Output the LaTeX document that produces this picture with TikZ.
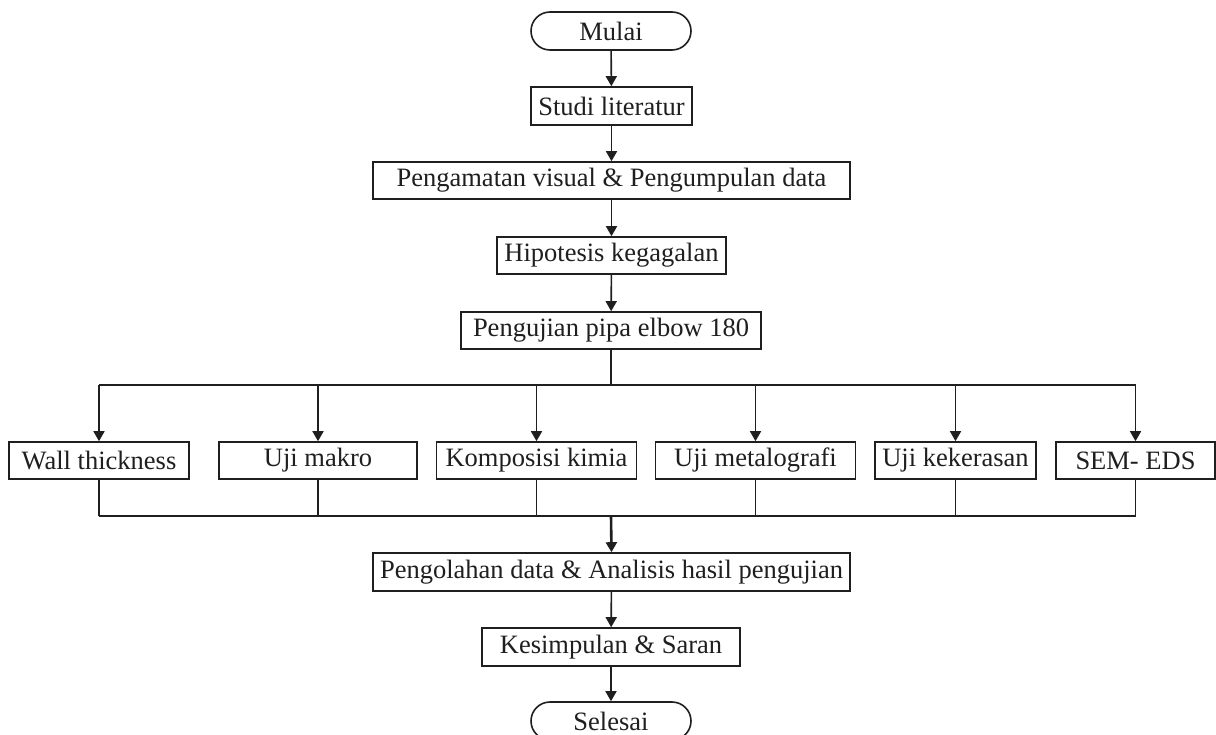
\documentclass[tikz,border=0pt]{standalone}
\usepackage{fontspec}
\setmainfont{Liberation Serif}
\usetikzlibrary{arrows.meta,shapes.misc}
\definecolor{ink}{gray}{0.12}
\begin{document}
\begin{tikzpicture}[x=1pt,y=-1pt,
  box/.style={draw=ink,line width=1.6pt,rectangle,minimum height=37pt,inner sep=0pt,font=\fontsize{26.5}{28}\selectfont,text=ink},
  term/.style={box,rounded rectangle,minimum width=160pt,minimum height=38pt},
  arr/.style={draw=ink,line width=1.6pt,-{Triangle[length=10pt,width=11pt]}},
  ln/.style={draw=ink,line width=1.6pt},
  thick arr/.style={arr,line width=2.6pt},
  thick ln/.style={ln,line width=2.6pt}]
\useasboundingbox (0,0) rectangle (1216,735);
\clip (0,0) rectangle (1216,735);
\fill[white] (0,0) rectangle (1216,735);
\node[term] (mulai) at (611,31) {Mulai};
\node[box,minimum width=161pt,minimum height=38pt] (studi) at (611.5,106) {Studi literatur};
\node[box,minimum width=477pt] (amat) at (611.5,180.5) {Pengamatan visual \& Pengumpulan data};
\node[box,minimum width=229pt] (hipo) at (611.5,255.5) {Hipotesis kegagalan};
\node[box,minimum width=300pt] (uji) at (611,330.5) {Pengujian pipa elbow 180};
\node[box,minimum width=180pt] (wt) at (99,460.5) {Wall thickness};
\node[box,minimum width=198pt] (mak) at (318,460.5) {Uji makro};
\node[box,minimum width=200pt] (kom) at (536.5,460.5) {Komposisi kimia};
\node[box,minimum width=200pt] (met) at (755.5,460.5) {Uji metalografi};
\node[box,minimum width=161pt] (ker) at (955.5,460.5) {Uji kekerasan};
\node[box,minimum width=159pt] (sem) at (1135.5,460.5) {SEM- EDS};
\node[box,minimum width=477pt,minimum height=38pt] (olah) at (611.5,572) {Pengolahan data \& Analisis hasil pengujian};
\node[box,minimum width=258pt,minimum height=38pt] (simp) at (611,647) {Kesimpulan \& Saran};
\node[term] (sele) at (611,721) {Selesai};
\coordinate (bus) at (611,385);
\coordinate (col) at (611,516);
\draw[arr] (mulai) -- (studi);
\draw[arr] (studi) -- (amat);
\draw[arr] (amat) -- (hipo);
\draw[arr] (hipo) -- (uji);
\draw[thick ln] (uji.south) -- (bus);
\draw[ln] (bus -| wt) -- (bus -| sem);
\foreach \n in {wt,mak,kom,met,ker,sem}{
  \draw[arr] (bus -| \n) -- (\n.north);
  \draw[ln] (\n.south) -- (col -| \n);
}
\draw[ln] (col -| wt) -- (col -| sem);
\draw[thick arr] (col) -- (olah.north);
\draw[arr] (olah) -- (simp);
\draw[arr] (simp) -- (sele);
\end{tikzpicture}
\end{document}
